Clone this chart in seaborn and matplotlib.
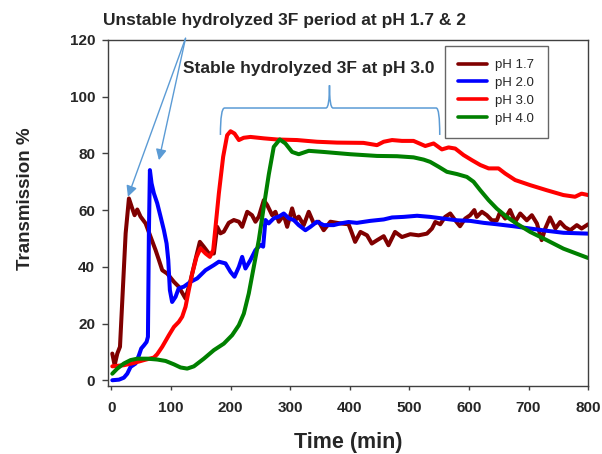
import matplotlib as mpl
import matplotlib.pyplot as plt
import seaborn as sns
import pandas as pd
from matplotlib.path import Path
from matplotlib.patches import PathPatch

mpl.use("Agg")
sns.set_theme()
sns.set_style("white")
plt.rcParams["font.family"] = ["Liberation Sans", "DejaVu Sans"]

series_names = ["pH 1.7", "pH 2.0", "pH 3.0", "pH 4.0"]
series_colors = ["#800000", "#0000ff", "#ff0000", "#008000"]

t_ph17 = [1.6, 5.5, 10, 14.5, 18.4, 24, 29.5, 35, 39, 43.5, 49, 57.5, 65.8, 74.2, 79.8,
          85.4, 93.8, 105, 113, 124.5, 133, 141, 148.5, 155, 163.6, 172, 177.6, 183,
          188.7, 197, 205.5, 214, 219.5, 228, 236, 241.8, 247.4, 255.8, 261.4, 269.8,
          275.3, 281, 289.3, 295, 303.3, 308.8, 314.4, 322.8, 331.2, 339.6, 348, 356.3,
          367.5, 384.3, 398, 404, 409, 418, 429, 437, 446, 457, 465, 476, 487.6, 501.6,
          515.5, 529.5, 538, 543.5, 551.8, 560, 568.6, 577, 585, 593.7, 602, 609, 613,
          621.7, 630, 638.4, 646.8, 652.4, 660.8, 669, 677.5, 686, 697, 705.5, 714, 722,
          728, 736, 745, 753, 761, 770, 781, 789, 800]
v_ph17 = [9.4, 5.3, 9.4, 11.8, 28.2, 51.8, 64.1, 60.6, 58.2, 60.2, 57.7, 55.3, 50.6, 45.9,
          42.4, 38.8, 37.6, 34.7, 33, 28.8, 35.3, 42.4, 48.8, 47.1, 44.7, 44.7, 54.1, 51.8,
          52.4, 55.5, 56.5, 55.9, 54.1, 59.4, 58.2, 55.9, 57.7, 63.5, 61.8, 58.2, 59.4,
          55.9, 58.2, 54.1, 60.6, 56.5, 57.7, 54.7, 59.4, 55.3, 55.9, 52.9, 55.9, 55.3,
          55, 51.7, 48.8, 52.3, 51.1, 48.2, 49.4, 50.8, 47.6, 52.3, 50.5, 51.5, 51.1, 51.7,
          53.5, 55.8, 55, 57.6, 58.8, 56.4, 54.3, 57, 58.2, 60, 57.6, 59.4, 58.2, 56.4,
          56.4, 59.4, 57, 60, 55.8, 58.8, 56.4, 58.2, 55.3, 49.4, 53.5, 57.4, 53.5, 55.8,
          54, 52.9, 54.7, 53.5, 55]

t_ph20 = [1.6, 12.8, 21, 26.7, 32.3, 40.7, 46.3, 50.2, 54.7, 59.1, 61.4, 63, 64.7, 67.5,
          71.4, 77, 82.6, 88.2, 92.7, 95.5, 98.2, 102, 107.7, 113, 121.7, 132.9, 144, 158,
          172, 180.4, 191.5, 200, 206.6, 214, 219.5, 225, 233.4, 241.8, 250.2, 254.7,
          258.6, 264, 272.5, 281, 289.3, 297.7, 306, 314.4, 325.6, 334, 345, 356.3, 373,
          384.3, 398, 412, 434.5, 457, 471, 490, 513, 535, 557.4, 580, 602, 624.5, 647,
          675, 702.6, 730.6, 758.5, 800]
v_ph20 = [0, 0.2, 0.9, 2.3, 4.7, 5.9, 8.8, 11.2, 12.3, 13.5, 15.3, 51.8, 74.1, 69.4, 65.9,
          62.4, 57.7, 52.9, 48.2, 42.4, 31.8, 27.6, 29.4, 32.4, 33, 34.7, 35.9, 38.8, 40.6,
          41.8, 41.2, 38.2, 36.5, 40, 43.5, 39.4, 42.4, 45.9, 47.7, 47.1, 56.5, 55.3, 57.1,
          57.7, 58.8, 57.1, 56.5, 54.7, 52.9, 54.1, 55.9, 54.7, 54.7, 55.3, 55.8, 55.5,
          56.2, 56.7, 57.4, 57.6, 58, 57.6, 57, 56.4, 56.2, 55.5, 55, 54.3, 53.5, 52.7, 52,
          51.7]

t_ph30 = [1.6, 21, 37.9, 54.7, 71.4, 77, 85.4, 96.6, 105, 113.3, 118.9, 124.5, 130, 135.7,
          143, 149.6, 158, 165.3, 170.9, 174.8, 180.4, 187.6, 194.3, 200, 206.6, 214, 222,
          233.4, 255.8, 278, 311.6, 345, 378.7, 423, 445.7, 456.9, 471, 487.6, 507, 526.7,
          540.7, 554.6, 565.8, 577, 591, 605, 619, 633, 649.6, 660.8, 677.5, 702.7, 730.6,
          758.5, 778, 789, 800]
v_ph30 = [4.9, 5.3, 6.1, 7.1, 8, 9.2, 11.8, 15.9, 18.8, 20.6, 22.4, 25.9, 31.8, 37.6,
          43.5, 46.5, 44.7, 43.5, 45.9, 54.1, 65.9, 78.8, 86.4, 87.8, 87, 84.7, 85.5, 85.8,
          85.3, 84.9, 84.7, 84.1, 83.8, 83.7, 82.9, 84.1, 84.7, 84.4, 84.4, 82.6, 83.5,
          81.4, 82.1, 81.7, 79.4, 77.6, 75.9, 74.7, 74.7, 72.9, 70.6, 68.8, 67, 65.3, 64.7,
          65.8, 65.3]

t_ph40 = [1.6, 10, 21, 32.3, 43.5, 60.3, 77, 91, 105, 116.1, 127.3, 138.5, 155.2, 172,
          188.7, 202.7, 213.9, 222.3, 230.6, 239, 247.4, 255.8, 264.2, 272.5, 282.6, 292,
          303.3, 314.4, 331.2, 356.3, 401, 445.7, 479.2, 507, 524, 535, 549, 563, 580,
          596.5, 607.7, 619, 633, 646.8, 663.5, 680.3, 702.7, 730.6, 758.5, 800]
v_ph40 = [2.3, 4.1, 5.9, 7.1, 7.6, 7.6, 7.3, 6.8, 5.6, 4.5, 4.1, 4.9, 7.6, 10.6, 12.9,
          15.9, 19.4, 23.5, 30.6, 40, 49.4, 61.2, 72.6, 82.3, 84.9, 83.5, 80.5, 79.7, 80.9,
          80.5, 79.7, 79.1, 79, 78.6, 77.8, 77, 75.3, 73.5, 72.7, 71.7, 70, 67, 63.5, 60.5,
          57.6, 55.2, 52.3, 49.4, 46.4, 43.1]

x_ticks = [0, 100, 200, 300, 400, 500, 600, 700, 800]
y_ticks = [0, 20, 40, 60, 80, 100, 120]

frames = []
for name, t, v in zip(series_names, [t_ph17, t_ph20, t_ph30, t_ph40],
                      [v_ph17, v_ph20, v_ph30, v_ph40]):
    frames.append(pd.DataFrame({"time": t, "trans": v, "series": name}))
data = pd.concat(frames, ignore_index=True)

fig = plt.figure(figsize=(6.02, 4.54), dpi=100)
ax = fig.add_axes([0.180, 0.150, 0.797, 0.762])

sns.lineplot(
    data=data,
    x="time",
    y="trans",
    hue="series",
    hue_order=series_names,
    palette=series_colors,
    estimator=None,
    sort=False,
    linewidth=2.9,
    ax=ax,
)

ax.set_xlim(-5, 800)
ax.set_ylim(-2, 120)
ax.set_xticks(x_ticks)
ax.set_yticks(y_ticks)
ax.tick_params(axis="both", direction="out", length=4.5, width=1, color="#404040",
               labelsize=11, bottom=True, left=True)
ax.tick_params(axis="x", pad=8, length=3)
ax.tick_params(axis="y", pad=5)
for lbl in ax.get_xticklabels() + ax.get_yticklabels():
    lbl.set_fontweight("bold")
for sp in ax.spines.values():
    sp.set_color("#404040")
    sp.set_linewidth(1)

ax.set_xlabel("Time (min)", fontsize=15.5, fontweight="bold", va="center")
ax.xaxis.set_label_coords(0.5, -0.165)
ax.set_ylabel("Transmission %", fontsize=13.5, fontweight="bold", va="center")
ax.yaxis.set_label_coords(-0.172, 0.542)

leg = ax.legend(
    loc="upper left",
    bbox_to_anchor=(0.702, 0.983),
    borderaxespad=0,
    fontsize=9.5,
    frameon=True,
    fancybox=False,
    handlelength=2.2,
    handletextpad=0.6,
    labelspacing=0.42,
    borderpad=1.0,
)
leg.get_frame().set_edgecolor("#404040")
leg.get_frame().set_linewidth(1)
for line in leg.get_lines():
    line.set_linewidth(2.6)

note_color = "#5b9bd5"

# curly bracket over the stable pH 3.0 plateau
brace = Path(
    [(183, 86.5), (183, 96), (190, 96), (360, 96), (366, 96), (366, 104),
     (366, 96), (372, 96), (545, 96), (551, 96), (551, 86.5)],
    [Path.MOVETO, Path.CURVE3, Path.CURVE3, Path.LINETO, Path.CURVE3, Path.CURVE3,
     Path.CURVE3, Path.CURVE3, Path.LINETO, Path.CURVE3, Path.CURVE3],
)
ax.add_patch(PathPatch(brace, fill=False, edgecolor=note_color, lw=1.1))

for tip in [(27.8, 64.7), (79.8, 77.6)]:
    ax.annotate(
        "",
        xy=tip,
        xytext=(124.5, 120.6),
        arrowprops=dict(arrowstyle="-|>", color=note_color, lw=1,
                        mutation_scale=16, shrinkA=0, shrinkB=0),
        annotation_clip=False,
    )

fig.text(103 / 602, 1 - 21 / 454, "Unstable hydrolyzed 3F period at pH 1.7 & 2",
         fontsize=12.5, fontweight="bold", ha="left", va="center")
ax.text(121, 110, "Stable hydrolyzed 3F at pH 3.0", fontsize=12.5,
        fontweight="bold", ha="left", va="center")

plt.savefig("out.png", dpi=100)
